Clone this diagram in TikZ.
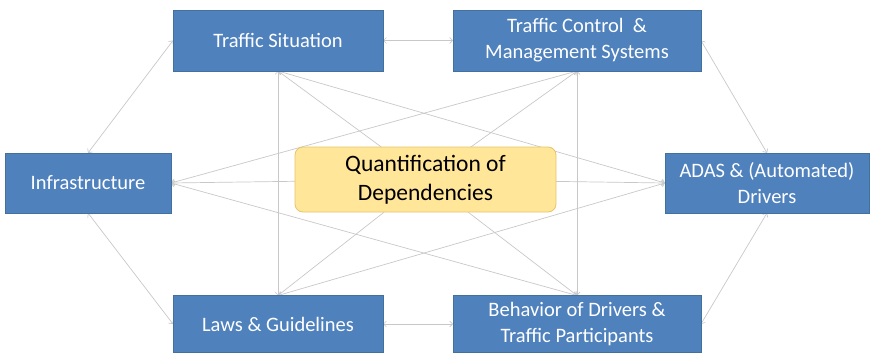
\documentclass[tikz,border=0pt]{standalone}
\usepackage{fontspec}
\setmainfont{Carlito}
\usetikzlibrary{arrows.meta,backgrounds}
\definecolor{boxblue}{RGB}{79,129,189}
\definecolor{boxedge}{RGB}{65,113,156}
\definecolor{qfill}{RGB}{255,230,153}
\definecolor{qedge}{RGB}{232,196,106}
\definecolor{conn}{RGB}{200,200,200}
\begin{document}
\begin{tikzpicture}[x=1pt,y=-1pt,
  bluebox/.style={draw=boxedge,line width=0.8pt,fill=boxblue,text=white,font=\fontsize{20.5}{26}\selectfont,align=center,inner sep=0pt,outer sep=0pt},
  qbox/.style={draw=qedge,line width=0.8pt,fill=qfill,rounded corners=8pt,font=\fontsize{23.5}{29}\selectfont,align=center,inner sep=0pt,outer sep=0pt,minimum width=261pt,minimum height=65pt},
  link/.style={draw=conn,line width=0.7pt,{Straight Barb[length=3pt,width=6pt]}-{Straight Barb[length=3pt,width=6pt]}},
  qlink/.style={draw=conn,line width=0.7pt,-{Straight Barb[length=3pt,width=6pt]}}]
\useasboundingbox (0,0) rectangle (871,353);
\node[bluebox,minimum width=210pt,minimum height=61pt] (TS) at (278,40.5) {Traffic Situation};
\node[bluebox,minimum width=248pt,minimum height=61pt] (TC) at (577,40.5) {Traffic Control\ \ \&\\Management Systems};
\node[bluebox,minimum width=166pt,minimum height=60pt] (INF) at (88,183) {Infrastructure};
\node[qbox] (Q) at (425.5,179.5) {Quantification of\\Dependencies};
\node[bluebox,minimum width=204pt,minimum height=60pt] (AD) at (767,183) {ADAS \& (Automated)\\Drivers};
\node[bluebox,minimum width=210pt,minimum height=57pt] (LAW) at (278,324) {Laws \& Guidelines};
\node[bluebox,minimum width=248pt,minimum height=57pt] (BEH) at (577,324) {Behavior of Drivers \&\\Traffic Participants};
\begin{pgfonlayer}{background}
\draw[link] (TS.east) -- (TC.west);
\draw[link] (LAW.east) -- (BEH.west);
\draw[link] (INF.north) -- (TS.west);
\draw[link] (INF.south) -- (LAW.west);
\draw[link] (TC.east) -- (AD.north);
\draw[link] (AD.south) -- (BEH.east);
\draw[link] (TS.south) -- (LAW.north);
\draw[link] (TC.south) -- (BEH.north);
\draw[link] (INF.east) -- (TC.south);
\draw[link] (TS.south) -- (AD.west);
\draw[link] (INF.east) -- (BEH.north);
\draw[link] (LAW.north) -- (AD.west);
\draw[qlink] (Q) -- (TS.south);
\draw[qlink] (Q) -- (TC.south);
\draw[qlink] (Q) -- (INF.east);
\draw[qlink] (Q) -- (AD.west);
\draw[qlink] (Q) -- (LAW.north);
\draw[qlink] (Q) -- (BEH.north);
\end{pgfonlayer}
\end{tikzpicture}
\end{document}
